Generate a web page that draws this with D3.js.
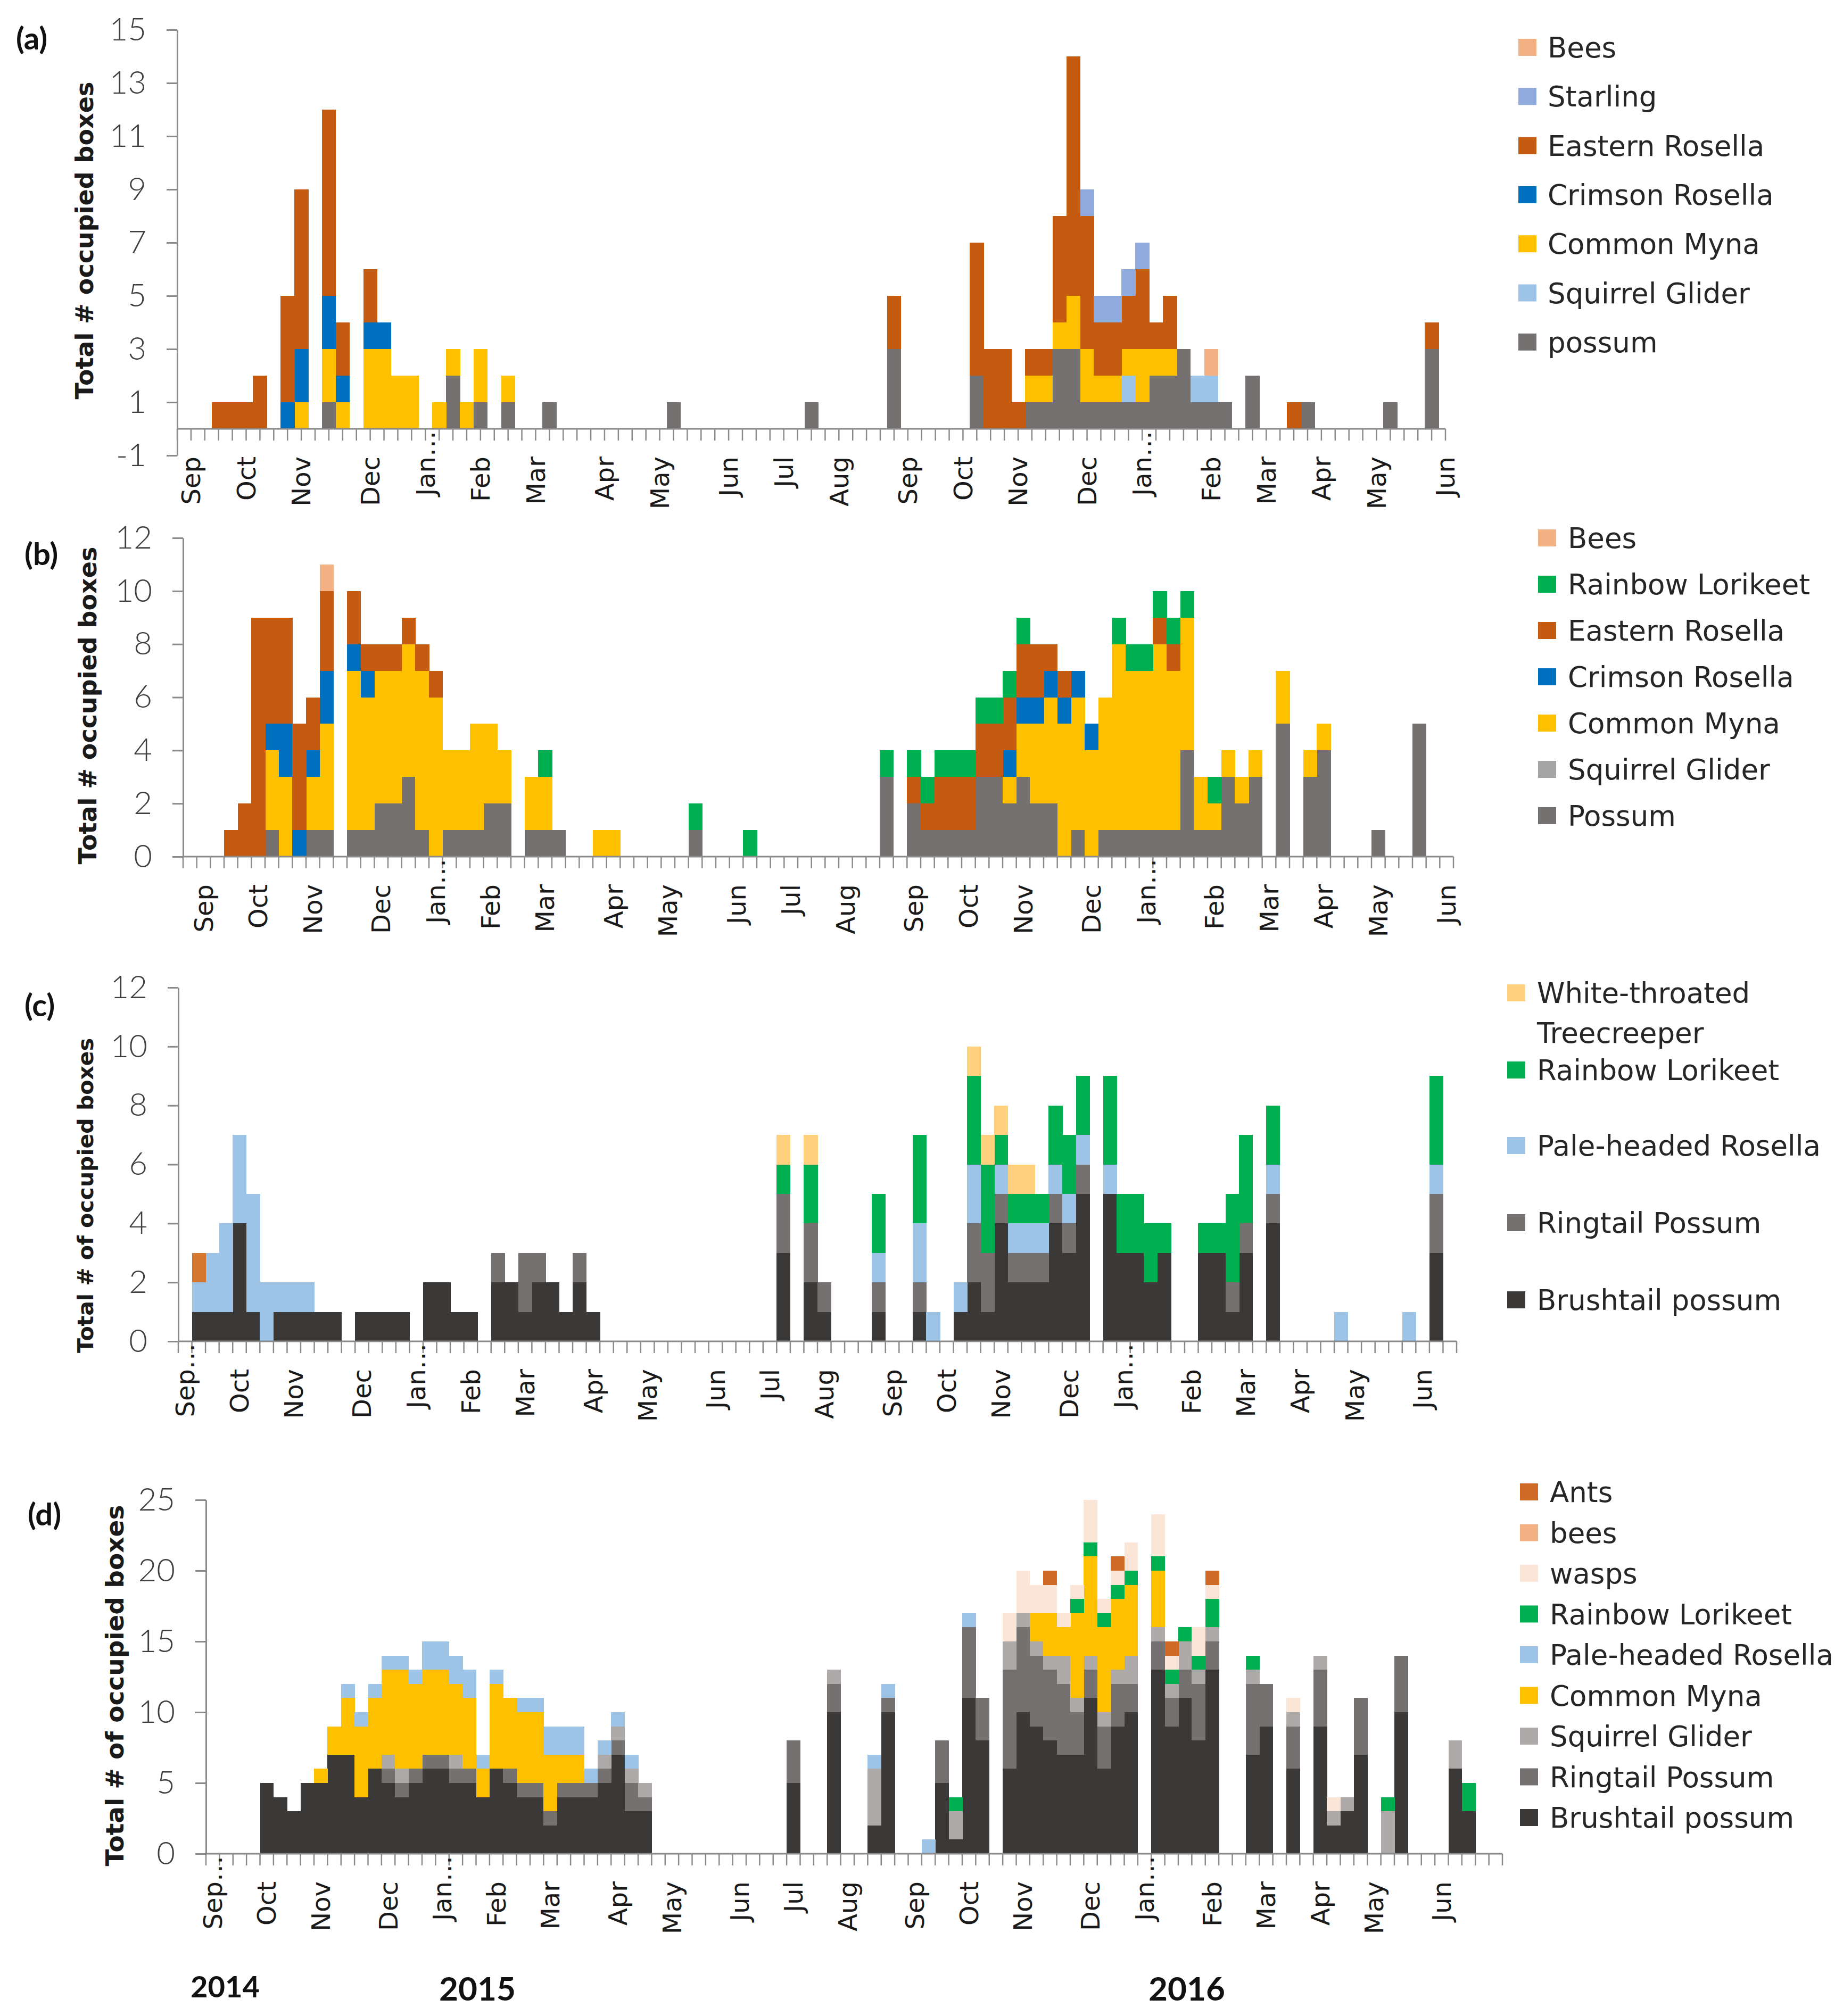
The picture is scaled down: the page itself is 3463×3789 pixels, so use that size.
<!DOCTYPE html>
<html>
<head>
<meta charset="utf-8">
<script src="https://cdn.jsdelivr.net/npm/d3@7/dist/d3.min.js"></script>
<style>
html,body{margin:0;padding:0;background:#fff;}
svg{display:block;}
</style>
</head>
<body>
<svg id="chart" width="3463" height="3789"></svg>
<script>
// ======================= DATA =======================
// Week categories, month labels (category index -> text), y ticks, series as [weekIndex, value] pairs

// ---------- (a) ----------
const A_WEEKS = 93;
const A_MONTHS = [[1,"Sep"],[5,"Oct"],[9,"Nov"],[14,"Dec"],[18,"Jan…"],[22,"Feb"],[26,"Mar"],[31,"Apr"],[35,"May"],[40,"Jun"],[44,"Jul"],[48,"Aug"],[53,"Sep"],[57,"Oct"],[61,"Nov"],[66,"Dec"],[70,"Jan…"],[75,"Feb"],[79,"Mar"],[83,"Apr"],[87,"May"],[92,"Jun"]];
const A_YTICKS = [-1,1,3,5,7,9,11,13,15];
const A_SERIES = ["possum","Squirrel Glider","Common Myna","Crimson Rosella","Eastern Rosella","Starling","Bees"];
const A_POSSUM = [[11,1],[20,2],[22,1],[24,1],[27,1],[36,1],[46,1],[52,3],[58,2],[62,1],[63,1],[64,3],[65,3],[66,1],[67,1],[68,1],[69,1],[70,1],[71,2],[72,2],[73,3],[74,1],[75,1],[76,1],[78,2],[82,1],[88,1],[91,3]];
const A_GLIDER = [[69,1],[74,1],[75,1]];
const A_MYNA = [[9,1],[11,2],[12,1],[14,3],[15,3],[16,2],[17,2],[19,1],[20,1],[21,1],[22,2],[24,1],[62,1],[63,1],[64,1],[65,2],[66,2],[67,1],[68,1],[69,1],[70,2],[71,1],[72,1]];
const A_CRIMSON = [[8,1],[9,2],[11,2],[12,1],[14,1],[15,1]];
const A_EASTERN = [[3,1],[4,1],[5,1],[6,2],[8,4],[9,6],[11,7],[12,2],[14,2],[52,2],[58,5],[59,3],[60,3],[61,1],[62,1],[63,1],[64,4],[65,9],[66,5],[67,2],[68,2],[69,2],[70,3],[71,1],[72,2],[81,1],[91,1]];
const A_STARLING = [[66,1],[67,1],[68,1],[69,1],[70,1]];
const A_BEES = [[75,1]];

// ---------- (b) ----------
const B_WEEKS = 93;
const B_MONTHS = A_MONTHS;
const B_YTICKS = [0,2,4,6,8,10,12];
const B_SERIES = ["Possum","Squirrel Glider","Common Myna","Crimson Rosella","Eastern Rosella","Rainbow Lorikeet","Bees"];
const B_POSSUM = [[6,1],[9,1],[10,1],[12,1],[13,1],[14,2],[15,2],[16,3],[17,1],[19,1],[20,1],[21,1],[22,2],[23,2],[25,1],[26,1],[27,1],[37,1],[51,3],[53,2],[54,1],[55,1],[56,1],[57,1],[58,3],[59,3],[60,2],[61,3],[62,2],[63,2],[65,1],[67,1],[68,1],[69,1],[70,1],[71,1],[72,1],[73,4],[74,1],[75,1],[76,3],[77,2],[78,3],[80,5],[82,3],[83,4],[87,1],[90,5]];
const B_GLIDER = [];
const B_MYNA = [[6,3],[7,3],[9,2],[10,4],[12,6],[13,5],[14,5],[15,5],[16,5],[17,6],[18,6],[19,3],[20,3],[21,4],[22,3],[23,2],[25,2],[26,2],[30,1],[31,1],[60,1],[61,2],[62,3],[63,4],[64,5],[65,5],[66,4],[67,5],[68,7],[69,6],[70,6],[71,7],[72,6],[73,5],[74,2],[75,1],[76,1],[77,1],[78,1],[80,2],[82,1],[83,1]];
const B_CRIMSON = [[6,1],[7,2],[8,1],[9,1],[10,2],[12,1],[13,1],[60,1],[61,1],[62,1],[63,1],[64,1],[65,1],[66,1]];
const B_EASTERN = [[3,1],[4,2],[5,9],[6,4],[7,4],[8,4],[9,2],[10,3],[12,2],[13,1],[14,1],[15,1],[16,1],[17,1],[18,1],[53,1],[54,1],[55,2],[56,2],[57,2],[58,2],[59,2],[60,2],[61,2],[62,2],[63,1],[64,1],[71,1],[72,1]];
const B_LORIKEET = [[26,1],[37,1],[41,1],[51,1],[53,1],[54,1],[55,1],[56,1],[57,1],[58,1],[59,1],[60,1],[61,1],[68,1],[69,1],[70,1],[71,1],[72,1],[73,1],[75,1]];
const B_BEES = [[10,1]];

// ---------- (c) ----------
const C_WEEKS = 94;
const C_MONTHS = [[0,"Sep…"],[4,"Oct"],[8,"Nov"],[13,"Dec"],[17,"Jan…"],[21,"Feb"],[25,"Mar"],[30,"Apr"],[34,"May"],[39,"Jun"],[43,"Jul"],[47,"Aug"],[52,"Sep"],[56,"Oct"],[60,"Nov"],[65,"Dec"],[69,"Jan…"],[74,"Feb"],[78,"Mar"],[82,"Apr"],[86,"May"],[91,"Jun"]];
const C_YTICKS = [0,2,4,6,8,10,12];
const C_SERIES = ["Brushtail possum","Ringtail Possum","Pale-headed Rosella","Rainbow Lorikeet","White-throated Treecreeper","Eastern Rosella"];
const C_BRUSHTAIL = [[1,1],[2,1],[3,1],[4,4],[5,1],[7,1],[8,1],[9,1],[10,1],[11,1],[13,1],[14,1],[15,1],[16,1],[18,2],[19,2],[20,1],[21,1],[23,2],[24,2],[25,1],[26,2],[27,2],[28,1],[29,2],[30,1],[44,3],[46,2],[47,1],[51,1],[54,1],[57,1],[58,2],[59,1],[60,4],[61,2],[62,2],[63,2],[64,4],[65,3],[66,5],[68,5],[69,3],[70,3],[71,2],[72,3],[75,3],[76,3],[77,1],[78,3],[80,4],[92,3]];
const C_RINGTAIL = [[23,1],[25,2],[26,1],[29,1],[44,2],[46,2],[47,1],[51,1],[54,1],[58,2],[59,2],[60,1],[61,1],[62,1],[63,1],[64,1],[65,1],[66,1],[77,1],[78,1],[80,1],[92,2]];
const C_PALEHEADED = [[1,1],[2,2],[3,3],[4,3],[5,4],[6,2],[7,1],[8,1],[9,1],[51,1],[54,2],[55,1],[57,1],[58,2],[60,1],[61,1],[62,1],[63,1],[64,1],[65,1],[66,1],[68,1],[80,1],[85,1],[90,1],[92,1]];
const C_LORIKEET = [[44,1],[46,2],[51,2],[54,3],[58,3],[59,3],[60,1],[61,1],[62,1],[63,1],[64,2],[65,2],[66,2],[68,3],[69,2],[70,2],[71,2],[72,1],[75,1],[76,1],[77,3],[78,3],[80,2],[92,3]];
const C_TREECREEPER = [[44,1],[46,1],[58,1],[59,1],[60,1],[61,1],[62,1]];
const C_EASTERN = [[1,1]];

// ---------- (d) ----------
const D_WEEKS = 96;
const D_MONTHS = C_MONTHS;
const D_YTICKS = [0,5,10,15,20,25];
const D_SERIES = ["Brushtail possum","Ringtail Possum","Squirrel Glider","Common Myna","Pale-headed Rosella","Rainbow Lorikeet","wasps","bees","Ants"];
const D_BRUSHTAIL = [[4,5],[5,4],[6,3],[7,5],[8,5],[9,7],[10,7],[11,4],[12,6],[13,5],[14,4],[15,5],[16,6],[17,6],[18,5],[19,5],[20,4],[21,6],[22,5],[23,4],[24,4],[25,2],[26,4],[27,4],[28,4],[29,5],[30,7],[31,3],[32,3],[43,5],[46,10],[49,2],[50,10],[54,5],[55,1],[56,11],[57,8],[59,6],[60,10],[61,9],[62,8],[63,7],[64,7],[65,11],[66,6],[67,9],[68,10],[70,13],[71,9],[72,11],[73,8],[74,13],[77,7],[78,9],[80,6],[82,9],[83,2],[84,3],[85,7],[88,10],[92,6],[93,3]];
const D_RINGTAIL = [[13,1],[14,1],[15,1],[16,1],[17,1],[18,1],[19,1],[22,1],[23,1],[24,1],[25,1],[26,1],[27,1],[28,1],[29,1],[30,1],[31,2],[32,1],[43,3],[46,2],[50,1],[54,3],[56,5],[57,3],[59,7],[60,6],[61,5],[62,5],[63,5],[64,3],[65,2],[66,3],[67,3],[68,2],[70,2],[71,2],[72,2],[73,4],[74,2],[77,5],[78,3],[80,3],[82,4],[85,4],[88,4]];
const D_GLIDER = [[13,1],[14,1],[18,1],[29,1],[30,1],[31,1],[32,1],[46,1],[49,4],[55,2],[59,2],[60,1],[61,1],[62,1],[63,2],[64,1],[65,1],[66,1],[67,1],[68,2],[70,1],[71,1],[72,2],[73,1],[74,1],[77,1],[80,1],[82,1],[83,1],[84,1],[87,3],[92,2]];
const D_MYNA = [[8,1],[9,2],[10,4],[11,5],[12,5],[13,6],[14,7],[15,6],[16,6],[17,6],[18,5],[19,5],[20,2],[21,6],[22,5],[23,5],[24,5],[25,4],[26,2],[27,2],[61,2],[62,3],[63,2],[64,6],[65,7],[66,6],[67,5],[68,5],[70,4]];
const D_PALEHEADED = [[10,1],[11,1],[12,1],[13,1],[14,1],[15,1],[16,2],[17,2],[18,2],[19,2],[20,1],[21,1],[23,1],[24,1],[25,2],[26,2],[27,2],[28,1],[29,1],[30,1],[31,1],[49,1],[50,1],[53,1],[56,1]];
const D_LORIKEET = [[55,1],[64,1],[65,1],[66,1],[67,1],[68,1],[70,1],[71,1],[72,1],[73,1],[74,2],[77,1],[87,1],[93,2]];
const D_WASPS = [[59,2],[60,3],[61,2],[62,2],[63,1],[64,1],[65,3],[66,1],[67,1],[68,2],[70,3],[71,1],[73,2],[74,1],[80,1],[83,1]];
const D_BEES = [];
const D_ANTS = [[62,1],[67,1],[71,1],[74,1]];

const YEAR_LABELS = ["2014","2015","2016"];

// ======================= STYLE / LAYOUT =======================
const COL = {
  possum:"#767171", brushtail:"#3B3838", myna:"#FFC000", crimson:"#0070C0", eastern:"#C55A11",
  starling:"#8FAADC", bees:"#F4B183", gliderA:"#9DC3E6", gliderB:"#A5A5A5", gliderD:"#AEAAAA",
  lorikeet:"#00B050", paleheaded:"#9DC3E6", treecreeper:"#FFD17F", ants:"#CF6A26", wasps:"#FBE5D6",
  orangeC:"#D4782F"
};

const PANELS = [
  { tag:"(a)", tagXY:[30,93], title:"Total # occupied boxes", titleXY:[175,452], titleSize:46,
    weeks:A_WEEKS, months:A_MONTHS, yticks:A_YTICKS, onTicks:true,
    axisX:333, axisEnd:2716, yDomain:[-1,15], yRange:[856,56],
    keys:A_SERIES, values:[A_POSSUM,A_GLIDER,A_MYNA,A_CRIMSON,A_EASTERN,A_STARLING,A_BEES],
    colors:[COL.possum,COL.gliderA,COL.myna,COL.crimson,COL.eastern,COL.starling,COL.bees],
    legend:{ sx:2853, tx:2908, y0:89, dy:92.3,
      items:[["Bees",COL.bees],["Starling",COL.starling],["Eastern Rosella",COL.eastern],["Crimson Rosella",COL.crimson],["Common Myna",COL.myna],["Squirrel Glider",COL.gliderA],["possum",COL.possum]] } },
  { tag:"(b)", tagXY:[46,1062], title:"Total # occupied boxes", titleXY:[181,1326], titleSize:46,
    weeks:B_WEEKS, months:B_MONTHS, yticks:B_YTICKS, onTicks:false,
    axisX:344, axisEnd:2731, yDomain:[0,12], yRange:[1610,1011],
    keys:B_SERIES, values:[B_POSSUM,B_GLIDER,B_MYNA,B_CRIMSON,B_EASTERN,B_LORIKEET,B_BEES],
    colors:[COL.possum,COL.gliderB,COL.myna,COL.crimson,COL.eastern,COL.lorikeet,COL.bees],
    legend:{ sx:2890, tx:2946, y0:1011, dy:87,
      items:[["Bees",COL.bees],["Rainbow Lorikeet",COL.lorikeet],["Eastern Rosella",COL.eastern],["Crimson Rosella",COL.crimson],["Common Myna",COL.myna],["Squirrel Glider",COL.gliderB],["Possum",COL.possum]] } },
  { tag:"(c)", tagXY:[46,1910], title:"Total # of occupied boxes", titleXY:[175,2247], titleSize:41,
    weeks:C_WEEKS, months:C_MONTHS, yticks:C_YTICKS, onTicks:false,
    axisX:335, axisEnd:2737, yDomain:[0,12], yRange:[2521,1856],
    keys:C_SERIES, values:[C_BRUSHTAIL,C_RINGTAIL,C_PALEHEADED,C_LORIKEET,C_TREECREEPER,C_EASTERN],
    colors:[COL.brushtail,COL.possum,COL.paleheaded,COL.lorikeet,COL.treecreeper,COL.orangeC],
    legend:{ sx:2832, tx:2888, ys:[1866,2011,2153,2298,2443],
      items:[[["White-throated","Treecreeper"],COL.treecreeper],["Rainbow Lorikeet",COL.lorikeet],["Pale-headed Rosella",COL.paleheaded],["Ringtail Possum",COL.possum],["Brushtail possum",COL.brushtail]] } },
  { tag:"(d)", tagXY:[52,2867], title:"Total # of occupied boxes", titleXY:[232,3168], titleSize:47,
    weeks:D_WEEKS, months:D_MONTHS, yticks:D_YTICKS, onTicks:false,
    axisX:387, axisEnd:2823, yDomain:[0,25], yRange:[3484,2819],
    keys:D_SERIES, values:[D_BRUSHTAIL,D_RINGTAIL,D_GLIDER,D_MYNA,D_PALEHEADED,D_LORIKEET,D_WASPS,D_BEES,D_ANTS],
    colors:[COL.brushtail,COL.possum,COL.gliderD,COL.myna,COL.paleheaded,COL.lorikeet,COL.wasps,COL.bees,COL.ants],
    legend:{ sx:2856, tx:2912, y0:2804, dy:76.5,
      items:[["Ants",COL.ants],["bees",COL.bees],["wasps",COL.wasps],["Rainbow Lorikeet",COL.lorikeet],["Pale-headed Rosella",COL.paleheaded],["Common Myna",COL.myna],["Squirrel Glider",COL.gliderD],["Ringtail Possum",COL.possum],["Brushtail possum",COL.brushtail]] } }
];

const AXIS_COL = "#8a8a8a";
const svg = d3.select("#chart");
svg.append("rect").attr("width",3463).attr("height",3789).attr("fill","#fff");

function drawPanel(p) {
  const g = svg.append("g");
  const n = p.weeks;
  let bandRange;
  if (p.onTicks) {
    const step = (p.axisEnd - p.axisX) / (n - 1);
    bandRange = [p.axisX - step / 2, p.axisEnd + step / 2];
  } else {
    bandRange = [p.axisX, p.axisEnd];
  }
  const x = d3.scaleBand().domain(d3.range(n)).range(bandRange).padding(0);
  const bw = x.bandwidth();
  const y = d3.scaleLinear().domain(p.yDomain).range(p.yRange);

  // build table from sparse series arrays
  const table = d3.range(n).map(i => { const r = {week:i}; p.keys.forEach(k => r[k] = 0); return r; });
  p.values.forEach((pairs, j) => pairs.forEach(([i, v]) => { table[i][p.keys[j]] = v; }));
  const layers = d3.stack().keys(p.keys)(table);

  layers.forEach((layer, j) => {
    g.append("g").attr("fill", p.colors[j]).attr("shape-rendering","crispEdges")
      .selectAll("rect").data(layer.filter(d => d[1] > d[0])).join("rect")
      .attr("x", d => x(d.data.week))
      .attr("width", bw + 0.6)
      .attr("y", d => y(d[1]))
      .attr("height", d => y(d[0]) - y(d[1]));
  });

  // y axis
  const yAxis = d3.axisLeft(y).tickValues(p.yticks).tickSize(20).tickSizeOuter(0).tickPadding(38).tickFormat(d => String(d));
  const ga = g.append("g").attr("transform", `translate(${p.axisX},0)`).call(yAxis);
  ga.select(".domain").attr("stroke", AXIS_COL).attr("stroke-width", 3);
  ga.selectAll(".tick line").attr("stroke", AXIS_COL).attr("stroke-width", 3);
  ga.selectAll(".tick text").attr("font-family","Lato, 'Open Sans', sans-serif").attr("font-weight",300)
    .attr("font-size", 60).attr("fill","#404040");

  // x axis line + ticks
  const y0 = y(0);
  g.append("line").attr("x1", p.axisX).attr("x2", p.axisEnd).attr("y1", y0).attr("y2", y0)
    .attr("stroke", AXIS_COL).attr("stroke-width", 3);
  const tickXs = p.onTicks ? d3.range(n).map(i => x(i) + bw / 2) : d3.range(n + 1).map(i => i < n ? x(i) : x(n - 1) + bw);
  g.append("g").selectAll("line").data(tickXs).join("line")
    .attr("x1", d => d).attr("x2", d => d).attr("y1", y0).attr("y2", y0 + 22)
    .attr("stroke", AXIS_COL).attr("stroke-width", 2.5);

  // month labels
  g.append("g").selectAll("text").data(p.months).join("text")
    .attr("transform", d => {
      const cx = x(d[0]) + bw / 2;
      const top = d[1].endsWith("…") ? y0 + 4 : y0 + 52;
      return `translate(${cx},${top}) rotate(-90)`;
    })
    .attr("text-anchor","end").attr("dy","0.36em")
    .attr("font-family","'DejaVu Sans', Verdana, sans-serif").attr("font-size", 48).attr("fill","#1a1a1a")
    .text(d => d[1]);

  // y title
  g.append("text").attr("transform", `translate(${p.titleXY[0]},${p.titleXY[1]}) rotate(-90)`)
    .attr("text-anchor","middle").attr("font-family","'DejaVu Sans', Verdana, sans-serif")
    .attr("font-weight","bold").attr("font-size", p.titleSize).attr("fill","#1a1a1a").text(p.title);

  // panel tag
  g.append("text").attr("x", p.tagXY[0]).attr("y", p.tagXY[1])
    .attr("font-family","Lato, 'Open Sans', sans-serif").attr("font-weight","bold")
    .attr("font-size", 58).attr("fill","#111").text(p.tag);

  // legend
  const L = p.legend;
  const lg = g.append("g");
  L.items.forEach((it, k) => {
    const cy = L.ys ? L.ys[k] : L.y0 + k * L.dy;
    lg.append("rect").attr("x", L.sx).attr("y", cy - 16).attr("width", 34).attr("height", 32).attr("fill", it[1]);
    const lines = Array.isArray(it[0]) ? it[0] : [it[0]];
    lines.forEach((t, li) => {
      lg.append("text").attr("x", L.tx).attr("y", cy + li * 75).attr("dy","0.36em")
        .attr("font-family","'DejaVu Sans', Verdana, sans-serif").attr("font-size", 53)
        .attr("fill","#262626").text(t);
    });
  });
}

PANELS.forEach(drawPanel);

// year labels under panel (d)
const yearPos = [[423,3754,56],[897,3760,62],[2230,3760,62]];
svg.append("g").selectAll("text").data(YEAR_LABELS).join("text")
  .attr("x", (d, i) => yearPos[i][0]).attr("y", (d, i) => yearPos[i][1])
  .attr("font-size", (d, i) => yearPos[i][2])
  .attr("text-anchor","middle").attr("font-family","Lato, 'Open Sans', sans-serif")
  .attr("font-weight","bold").attr("fill","#111").text(d => d);
</script>
</body>
</html>
